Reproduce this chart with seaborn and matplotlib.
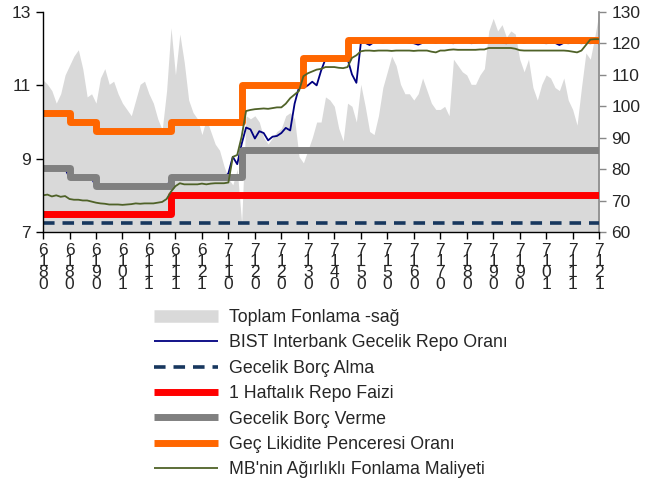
import numpy as np
import pandas as pd
import matplotlib
matplotlib.use("Agg")
import matplotlib.pyplot as plt
from matplotlib.lines import Line2D
import seaborn as sns

# ---------------- data ----------------
x_labels = ["6180", "6180", "6190", "6101", "6111", "6111", "6121", "7110",
            "7120", "7120", "7130", "7140", "7150", "7150", "7160", "7170",
            "7180", "7190", "7190", "7101", "7111", "7121"]
tick_step = 6

toplam_fonlama = [
    108.4, 107, 105, 101, 104, 110, 113, 116, 118, 112,
    103, 104, 101, 109, 112, 107, 108, 104, 101, 99,
    97, 102, 107, 108, 104, 101, 96, 92.5, 105, 125,
    110, 123, 114, 102, 98, 96, 91, 96, 92, 88,
    86, 81, 77, 75, 80, 63, 97, 96, 97, 95,
    90, 88, 90, 92, 93, 97, 98, 96, 84, 82,
    86, 90, 95, 95, 103, 102, 100, 93, 89, 101,
    100, 95, 107, 100, 92, 91, 97, 106, 111, 116,
    113, 107, 104, 104, 102, 104, 109, 105, 101, 99,
    99, 100, 97, 115, 113, 111, 110, 107, 107, 110,
    112, 124, 128, 124, 126, 122, 124, 123, 115, 111,
    115, 106, 102, 107, 110, 109, 106, 105, 109, 102,
    99, 94, 106, 117, 115, 122, 130]

bist_repo = ([8.73] * 6 + [8.48] * 6 + [8.23] * 17 + [8.46] * 13 +
             [8.6, 9.05, 8.85, 9.4, 9.85, 9.8, 9.55, 9.75, 9.7, 9.5,
              9.6, 9.62, 9.7, 9.84, 9.77, 10.5, 10.95, 10.93, 11.0, 11.1,
              11.0, 11.4, 11.72] +
             [11.72] * 5 + [11.3, 11.07] +
             [12.15, 12.16, 12.1, 12.18, 12.2, 12.16, 12.2, 12.2, 12.16, 12.2,
              12.2, 12.16, 12.15, 12.11, 12.16, 12.2, 12.2, 12.16, 12.2, 12.2,
              12.16, 12.15, 12.2, 12.2, 12.2, 12.15, 12.16, 12.2, 12.2, 12.2,
              12.2, 12.2, 12.16, 12.15, 12.2, 12.2, 12.2, 12.16, 12.2, 12.2,
              12.2, 12.16, 12.15, 12.16, 12.16, 12.1, 12.16, 12.15, 12.16, 12.16,
              12.15, 12.16, 12.15, 12.16, 12.15])

mb_maliyet = [
    8.00, 8.02, 7.97, 8.00, 7.96, 7.98, 7.90, 7.88, 7.88, 7.86,
    7.86, 7.83, 7.80, 7.78, 7.77, 7.75, 7.75, 7.75, 7.74, 7.75,
    7.76, 7.78, 7.77, 7.78, 7.78, 7.78, 7.80, 7.82, 7.90, 8.10,
    8.25, 8.33, 8.30, 8.30, 8.30, 8.30, 8.32, 8.30, 8.32, 8.33,
    8.33, 8.33, 8.35, 9.05, 9.10, 9.60, 10.30, 10.33, 10.35, 10.36,
    10.37, 10.36, 10.38, 10.40, 10.40, 10.50, 10.65, 10.75, 10.85, 11.25,
    11.33, 11.38, 11.43, 11.45, 11.50, 11.50, 11.50, 11.48, 11.47, 11.50,
    11.75, 11.82, 11.93, 11.95, 11.95, 11.94, 11.95, 11.95, 11.95, 11.94,
    11.95, 11.95, 11.95, 11.95, 11.94, 11.95, 11.95, 11.95, 11.92, 11.90,
    11.95, 11.95, 11.97, 11.98, 11.97, 11.97, 11.97, 11.97, 11.97, 11.98,
    11.98, 12.02, 12.02, 12.02, 12.02, 12.02, 12.02, 12.00, 11.96, 11.95,
    11.95, 11.95, 11.95, 11.95, 11.95, 11.95, 11.95, 11.95, 11.95, 11.94,
    11.92, 11.90, 11.95, 12.10, 12.25, 12.26, 12.26]

borc_alma = [7.25] * 127
haftalik_repo = [7.5] * 29 + [8.0] * 98
borc_verme = [8.75] * 6 + [8.5] * 6 + [8.25] * 17 + [8.5] * 16 + [9.25] * 82
gec_likidite = [10.25] * 6 + [10.0] * 6 + [9.75] * 17 + [10.0] * 16 + [11.0] * 14 + [11.75] * 10 + [12.25] * 58

labels = ["Toplam Fonlama -sağ", "BIST Interbank Gecelik Repo Oranı",
          "Gecelik Borç Alma", "1 Haftalık Repo Faizi", "Gecelik Borç Verme",
          "Geç Likidite Penceresi Oranı", "MB'nin Ağırlıklı Fonlama Maliyeti"]

# ---------------- plot ----------------
sns.set_theme(style="white")
plt.rcParams["font.family"] = ["Liberation Sans", "DejaVu Sans"]
FS = 12.5

n = len(toplam_fonlama)
x = np.arange(n)
df = pd.DataFrame({"x": x, "area": toplam_fonlama, "bist": bist_repo,
                   "alma": borc_alma, "hafta": haftalik_repo,
                   "verme": borc_verme, "gec": gec_likidite, "mb": mb_maliyet})

fig = plt.figure(figsize=(6.47, 4.83), dpi=100)
ax = fig.add_axes([0.0665, 0.5197, 0.8595, 0.4553])
ax2 = ax.twinx()

area_col = "#d9d9d9"
ax2.fill_between(df["x"], 60, df["area"], color=area_col, linewidth=0)
ax2.set_ylim(60, 130)
ax2.set_yticks(np.arange(60, 131, 10))

styles = [
    ("bist", "#000080", 1.3, "-", "default"),
    ("alma", "#17375e", 2.6, (0, (3.2, 2.2)), "default"),
    ("hafta", "#ff0000", 5.0, "-", "steps-post"),
    ("verme", "#808080", 5.0, "-", "steps-post"),
    ("gec", "#ff6600", 5.0, "-", "steps-post"),
    ("mb", "#4f6228", 1.3, "-", "default"),
]
for col, c, lw, ls, ds in styles:
    sns.lineplot(data=df, x="x", y=col, ax=ax, color=c, linewidth=lw,
                 linestyle=ls, drawstyle=ds, legend=False,
                 solid_capstyle="butt")

ax.set_zorder(ax2.get_zorder() + 1)
ax.patch.set_visible(False)

ax.set_xlim(0, n - 1)
ax.set_ylim(7, 13)
ax.set_yticks([7, 9, 11, 13])
ax.set_xlabel("")
ax.set_ylabel("")
ticks = np.arange(0, n, tick_step)
ax.set_xticks(ticks)
ax.set_xticklabels(["\n".join(s) for s in x_labels], fontsize=FS,
                   linespacing=0.68, va="top")
ax.tick_params(axis="y", labelsize=FS, direction="out", length=5, width=1,
               color="black", left=True, pad=4)
ax.tick_params(axis="x", direction="out", length=5, width=1, color="black",
               bottom=True, pad=3)
ax2.tick_params(axis="y", labelsize=FS, direction="out", length=5, width=1,
                color="#888888", right=True, pad=4)

ax.spines["top"].set_visible(False)
ax2.spines["top"].set_visible(False)
ax.spines["left"].set_color("black")
ax.spines["bottom"].set_color("black")
ax.spines["right"].set_visible(False)
ax2.spines["left"].set_visible(False)
ax2.spines["bottom"].set_visible(False)
ax2.spines["right"].set_color("#888888")
ax2.spines["right"].set_linewidth(1.2)
ax.spines["left"].set_linewidth(1.0)
ax.spines["bottom"].set_linewidth(1.0)

handles = [Line2D([], [], color=area_col, lw=9, solid_capstyle="butt")]
for col, c, lw, ls, ds in styles:
    handles.append(Line2D([], [], color=c, lw=lw, linestyle=ls,
                          solid_capstyle="butt"))
leg = fig.legend(handles, labels, loc="upper left",
                 bbox_to_anchor=(0.238, 0.36), frameon=False,
                 fontsize=12.8, handlelength=3.6, handletextpad=0.6,
                 labelspacing=0.47, borderaxespad=0, borderpad=0)

fig.savefig("out.png", dpi=100)
